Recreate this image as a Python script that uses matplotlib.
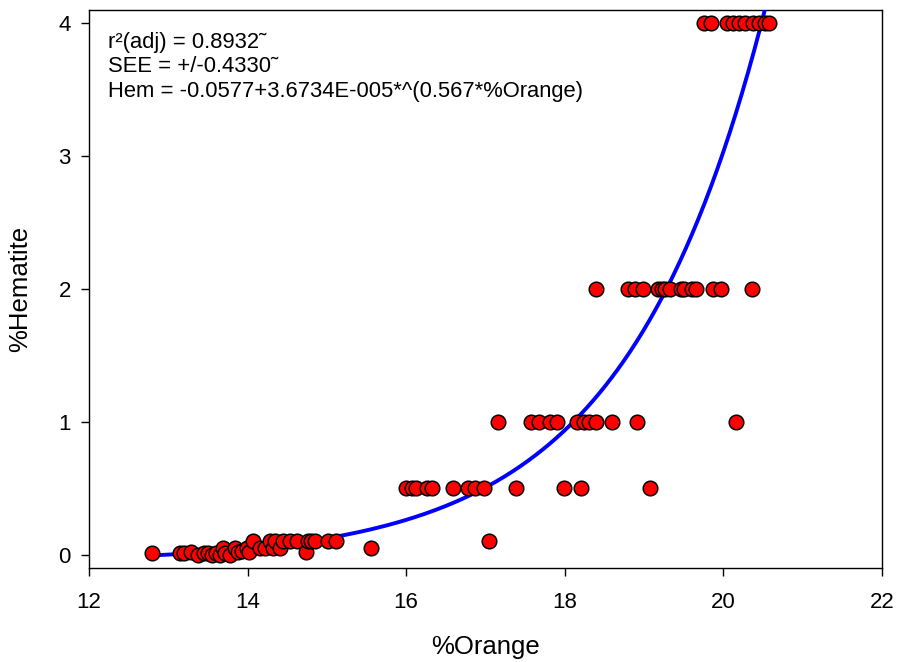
import numpy as np
import matplotlib.pyplot as plt

plt.rcParams['font.family'] = ['Liberation Sans', 'DejaVu Sans']


# DATA

orange_low = [12.79, 13.15, 13.20, 13.29, 13.38, 13.45, 13.50, 13.55, 13.60, 13.65,
              13.69, 13.72, 13.78, 13.84, 13.88, 13.93, 13.99, 14.02, 14.07, 14.16,
              14.22, 14.28, 14.32, 14.35, 14.41, 14.45, 14.53, 14.62, 14.74, 14.76,
              14.80, 14.85, 15.02, 15.12, 15.56, 17.04]
hem_low = [0.01, 0.01, 0.01, 0.02, 0.00, 0.01, 0.01, 0.00, 0.01, 0.00,
           0.05, 0.01, 0.00, 0.05, 0.02, 0.03, 0.05, 0.02, 0.10, 0.05,
           0.05, 0.10, 0.05, 0.10, 0.05, 0.10, 0.10, 0.10, 0.02, 0.10,
           0.10, 0.10, 0.10, 0.10, 0.05, 0.10]

orange_05 = [16.00, 16.07, 16.12, 16.26, 16.33, 16.59, 16.78, 16.87, 16.98, 17.38,
             17.99, 18.21, 19.07]
orange_1 = [17.16, 17.58, 17.68, 17.82, 17.90, 18.15, 18.24, 18.30, 18.39, 18.59,
            18.91, 20.16]
orange_2 = [18.40, 18.80, 18.89, 18.99, 19.18, 19.23, 19.26, 19.33, 19.47, 19.50,
            19.60, 19.66, 19.87, 19.97, 20.36]
orange_4 = [19.75, 19.84, 20.04, 20.12, 20.20, 20.27, 20.38, 20.45, 20.52, 20.58]

orange = np.array(orange_low + orange_05 + orange_1 + orange_2 + orange_4)
hematite = np.array(hem_low + [0.5] * len(orange_05) + [1.0] * len(orange_1)
                    + [2.0] * len(orange_2) + [4.0] * len(orange_4))

# fit from the annotation: Hem = y0 + a*exp(b*%Orange)
y0 = -0.0577
a = 3.6734e-5
b = 0.567

stats_text = ("r\u00b2(adj) = 0.8932\u02dc\n"
              "SEE = +/-0.4330\u02dc\n"
              "Hem = -0.0577+3.6734E-005*^(0.567*%Orange)")


# PLOT

fig = plt.figure(figsize=(8.99, 6.62), dpi=100)
ax = fig.add_axes([0.099, 0.142, 0.882, 0.843])

xfit = np.linspace(orange.min(), 20.6, 300)
yfit = y0 + a * np.exp(b * xfit)
ax.plot(xfit, yfit, color='#0000ff', lw=2.8, zorder=3)

ax.scatter(orange, hematite, s=110, color='#ff0000', edgecolor='black',
           linewidth=1.1, zorder=4, clip_on=False)

ax.set_xlim(12, 22)
ax.set_ylim(-0.1, 4.1)
ax.set_xticks([12, 14, 16, 18, 20, 22])
ax.set_yticks([0, 1, 2, 3, 4])
ax.tick_params(direction='out', length=6, width=1, labelsize=16)
ax.tick_params(axis='x', pad=11)
ax.tick_params(axis='y', pad=7)
for s in ax.spines.values():
    s.set_linewidth(1.0)

ax.set_xlabel("%Orange", fontsize=18.5, labelpad=16)
ax.set_ylabel("%Hematite", fontsize=18.5, labelpad=19)

ax.text(0.024, 0.96, stats_text, transform=ax.transAxes, fontsize=15.8,
        va='top', ha='left', linespacing=1.2)

fig.savefig("out.png", dpi=100)
